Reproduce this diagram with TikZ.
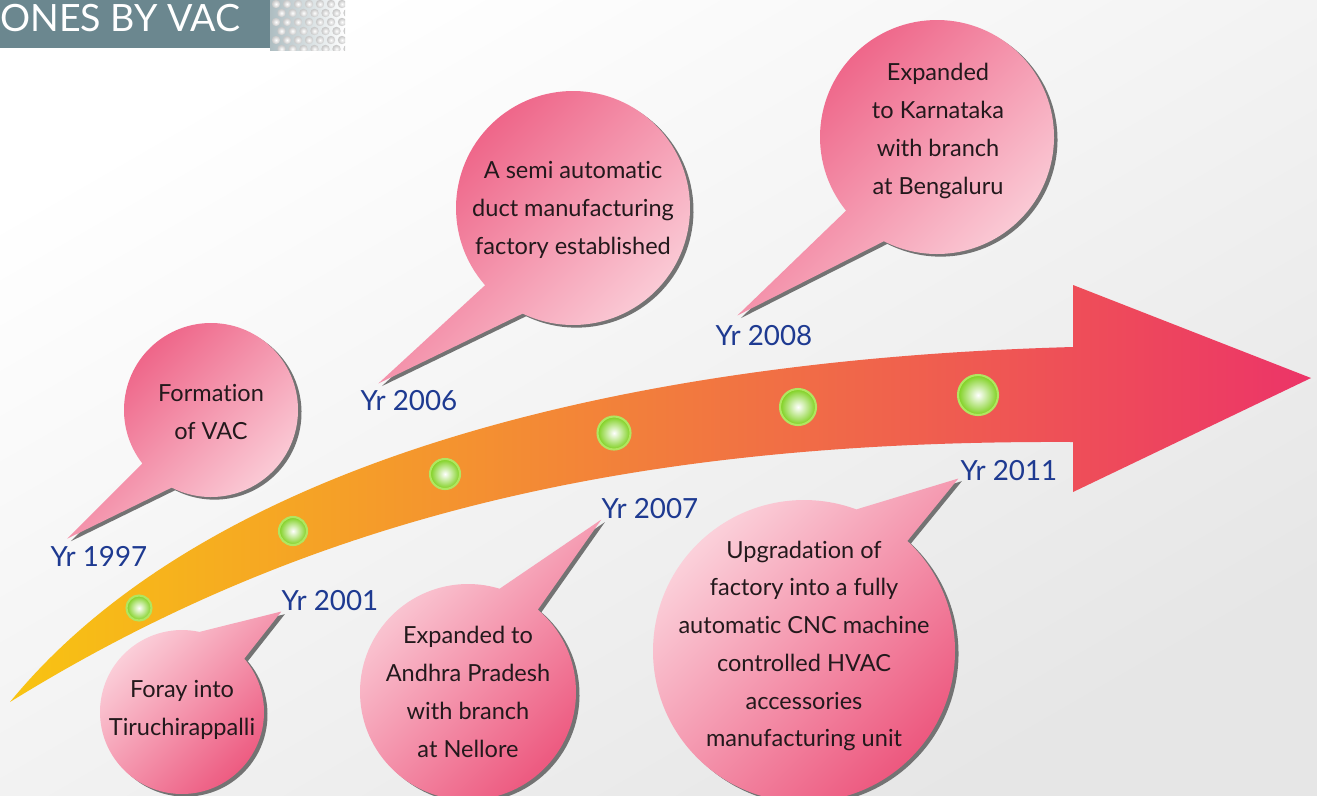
\documentclass[tikz,border=0pt]{standalone}
\usepackage{fontspec}
\setmainfont{Lato}[Ligatures=NoCommon]
\usetikzlibrary{calc,shadows}
\definecolor{titleColor}{RGB}{107,135,143}
\definecolor{yearColor}{RGB}{30,58,145}
\definecolor{textColor}{RGB}{35,25,28}
\definecolor{bubbleDarkColor}{RGB}{236,82,122}
\definecolor{bubbleLightColor}{RGB}{252,216,224}
\definecolor{shadowColor}{RGB}{115,115,115}
\definecolor{arrowStartColor}{RGB}{248,196,18}
\definecolor{arrowMidColor}{RGB}{241,130,66}
\definecolor{arrowEndColor}{RGB}{236,52,104}
\definecolor{dotColor}{RGB}{125,208,30}
\definecolor{dotRingColor}{RGB}{176,230,96}
\definecolor{bgColor}{RGB}{230,230,230}
\tikzset{bubble/.style={general shadow={fill=shadowColor, shadow xshift=2pt, shadow yshift=-1.5pt}}}
\tikzset{bubbleUp/.style={bubble, top color=bubbleDarkColor, middle color=bubbleDarkColor!72!bubbleLightColor, bottom color=bubbleLightColor, shading angle=45}}
\tikzset{bubbleDown/.style={bubble, top color=bubbleLightColor, middle color=bubbleDarkColor!60!bubbleLightColor, bottom color=bubbleDarkColor, shading angle=45}}
\tikzset{bubbletext/.style={align=center, text=textColor, font=\fontsize{13.4}{21.5}\selectfont}}
\tikzset{year/.style={text=yearColor, inner sep=0pt, font=\fontsize{15.8}{18}\selectfont}}
\tikzset{milestone/.style={circle, inner sep=0pt, draw=dotRingColor, line width=1.2pt, inner color=white, outer color=dotColor}}

\begin{document}
\begin{tikzpicture}[x=0.02cm, y=-0.02cm]
% Background
\useasboundingbox (0,0) rectangle (1317,795);
\clip (0,0) rectangle (1317,795);
\shade[top color=white, bottom color=bgColor, shading angle=30] (0,0) rectangle (1317,795);

% Title
\fill[titleColor] (0,0) rectangle (270,48);
\begin{scope}
\clip (270,0) rectangle (345,50);
\shade[left color=titleColor!55, right color=white] (270,0) rectangle (345,50);
\foreach \row in {0,...,5}
  \foreach \col in {0,...,6}
    \shade[inner color=white, outer color=gray!45] ({276+\col*11+mod(\row,2)*5.5},{4+\row*9}) circle (4.2);
\end{scope}
\node (title) [anchor=west, inner sep=0pt, text=white, font=\fontsize{21.4}{24}\selectfont] at (0,18.5) {ONES BY VAC};

% Arrow
\shade[left color=arrowStartColor, middle color=arrowMidColor, right color=arrowEndColor]
  (10,702) .. controls (200,470) and (600,360) .. (1073,347) -- (1073,285) -- (1311,378)
  -- (1073,492) -- (1073,442) .. controls (650,440) and (320,510) .. (10,702) -- cycle;

% Milestones
\foreach \x/\y/\s [count=\i] in {139/608/0.5, 293/531/0.56, 445/474/0.6, 614/433/0.66, 798/407/0.72, 978/395/0.8}
  \node (dot\i) [milestone, minimum size=\s cm] at (\x,\y) {};

% Years
\node (y1997) [year] at (99,556) {Yr 1997};
\node (y2001) [year] at (330,601) {Yr 2001};
\node (y2006) [year] at (409,401) {Yr 2006};
\node (y2007) [year] at (650,509) {Yr 2007};
\node (y2008) [year] at (764,336) {Yr 2008};
\node (y2011) [year] at (1009,471) {Yr 2011};

% Tail tips
\coordinate (t1997) at ($(y1997.north west)+(17,-7)$);
\coordinate (t2006) at ($(y2006.north west)+(18,-7)$);
\coordinate (t2008) at ($(y2008.north west)+(22,-10)$);
\coordinate (t2001) at (y2001.south west);
\coordinate (t2007) at (y2007.south west);
\coordinate (t2011) at ($(y2011.south west)+(-2,-3)$);

% Bubble centres
\coordinate (c1997) at (211,410);
\coordinate (c2006) at (573,208);
\coordinate (c2008) at (937,137);
\coordinate (c2001) at (182,712);
\coordinate (c2007) at (468,692);
\coordinate (c2011) at (804,651);

% Bubbles
\foreach \n/\r/\a/\b/\s in {1997/87/142.1/476.9/bubbleUp, 2006/117/138.7/475.5/bubbleUp, 2008/117/141/477/bubbleUp, 2001/82/319.4/642.3/bubbleDown, 2007/108/310.3/647/bubbleDown, 2011/151/313.2/650.3/bubbleDown}
  \path[\s] (t\n) -- ($(c\n)+(\a:\r)$) arc[start angle=\a, end angle=\b, radius=\r] -- cycle;

% Bubble texts
\node (b1997) [bubbletext] at (211,412) {Formation\\of VAC};
\node (b2006) [bubbletext] at (573,210) {A semi automatic\\duct manufacturing\\factory established};
\node (b2008) [bubbletext] at (938,131) {Expanded\\to Karnataka\\with branch\\at Bengaluru};
\node (b2001) [bubbletext] at (182,710) {Foray into\\Tiruchirappalli};
\node (b2007) [bubbletext] at (468,692) {Expanded to\\Andhra Pradesh\\with branch\\at Nellore};
\node (b2011) [bubbletext] at (804,646) {Upgradation of\\factory into a fully\\automatic CNC machine\\controlled HVAC\\accessories\\manufacturing unit};

\end{tikzpicture}
\end{document}
